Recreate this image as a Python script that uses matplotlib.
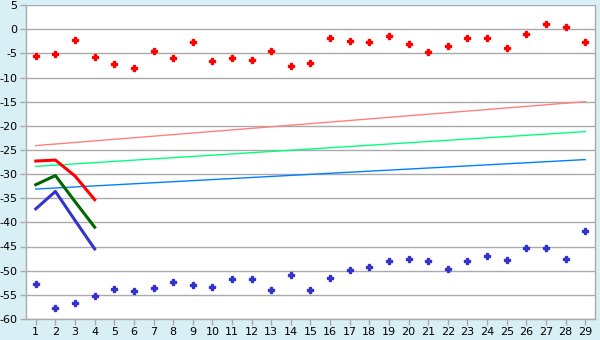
import matplotlib
matplotlib.use("Agg")
import matplotlib.pyplot as plt

# categories on the x axis
categories = list(range(1, 30))

# scattered points (top red, bottom blue)
red_points = [-5.6, -5.2, -2.3, -5.8, -7.1, -8.1, -4.6, -6.0, -2.6, -6.5,
              -6.0, -6.3, -4.6, -7.7, -6.9, -1.9, -2.5, -2.7, -1.5, -3.1,
              -4.8, -3.5, -1.9, -1.9, -3.8, -1.0, 1.0, 0.4, -2.7]
blue_points = [-52.7, -57.7, -56.7, -55.2, -53.8, -54.2, -53.5, -52.3, -52.9, -53.3,
               -51.7, -51.7, -54.0, -50.8, -54.0, -51.5, -49.8, -49.2, -47.9, -47.5,
               -48.1, -49.6, -47.9, -46.9, -47.7, -45.4, -45.4, -47.5, -41.7]

# trend lines: start (x=1) and end (x=29) values
trend_x = [1, 29]
pink_trend = [-24.1, -15.0]
green_trend = [-28.4, -21.2]
blue_trend = [-33.1, -27.0]

# short thick lines over the first four categories
short_x = [1, 2, 3, 4]
red_short = [-27.3, -27.1, -30.4, -35.3]
green_short = [-32.2, -30.3, -35.7, -41.0]
blue_short = [-37.2, -33.6, -39.6, -45.5]

yticks = list(range(-60, 6, 5))

plt.rcParams["axes.unicode_minus"] = False
plt.rcParams["font.family"] = "DejaVu Sans"

fig = plt.figure(figsize=(6, 3.4), dpi=100, facecolor="#d9eff6")
ax = fig.add_axes([0.0433, 0.062, 0.9484, 0.923])
ax.set_facecolor("white")

grid_color = "#aaaaaa"
for y in yticks:
    ax.axhline(y, color=grid_color, lw=1, zorder=1)

ax.plot(trend_x, pink_trend, color="#ff8080", lw=1, zorder=2)
ax.plot(trend_x, green_trend, color="#00ff80", lw=1, zorder=2)
ax.plot(trend_x, blue_trend, color="#0080ff", lw=1, zorder=2)

ax.plot(short_x, red_short, color="#ff0000", lw=2.2, zorder=3)
ax.plot(short_x, green_short, color="#006600", lw=2.2, zorder=3)
ax.plot(short_x, blue_short, color="#3333cc", lw=2.2, zorder=3)

ax.plot(categories, red_points, ls="none", marker="P", ms=3.8,
        color="#ff0000", mec="#ff0000", zorder=4)
ax.plot(categories, blue_points, ls="none", marker="P", ms=3.8,
        color="#3333cc", mec="#3333cc", zorder=4)

ax.set_xlim(0.5, 29.5)
ax.set_ylim(-60, 5)
ax.set_xticks(categories)
ax.set_yticks(yticks)
ax.tick_params(axis="both", colors="#000000", labelsize=8, length=4,
               width=1, direction="out", pad=2)
ax.tick_params(axis="x", color=grid_color)
ax.tick_params(axis="y", color=grid_color)

for side in ["left", "bottom", "right"]:
    ax.spines[side].set_color(grid_color)
    ax.spines[side].set_linewidth(1)
ax.spines["top"].set_visible(False)

fig.savefig("out.png", dpi=100, facecolor=fig.get_facecolor())
